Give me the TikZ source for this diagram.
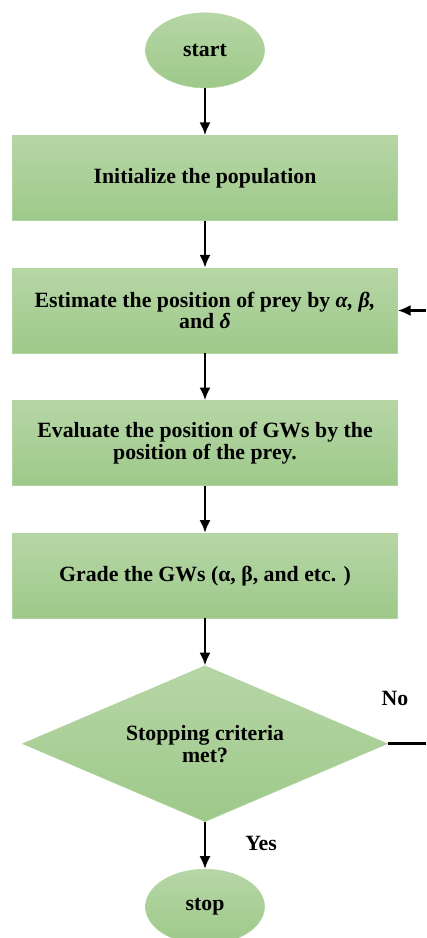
\documentclass[tikz,border=0pt]{standalone}
\usepackage{fontspec}
\setmainfont{Liberation Serif}
\usetikzlibrary{positioning,shapes.geometric,arrows.meta}

\definecolor{vertHaut}{RGB}{182,214,166}
\definecolor{vertBas}{RGB}{158,201,138}

\begin{document}
\begin{tikzpicture}[
  node distance=1.175cm,
  font=\fontsize{15.5}{15.5}\selectfont\bfseries,
  fleche/.style={draw, line width=1.9pt, -{Latex[length=3.2mm,width=2.8mm]}},
  %  Définition des styles pour les cadres
  bout_style/.style={ellipse, top color=vertHaut, bottom color=vertBas, draw=vertBas!80!white, minimum width=2.975cm, minimum height=1.875cm, inner sep=0pt},
  etape_style/.style={rectangle, top color=vertHaut, bottom color=vertBas, draw=vertBas!80!white, minimum width=9.625cm, minimum height=2.125cm, align=center, inner sep=2pt},
  test_style/.style={diamond, aspect=2.34, top color=vertHaut, bottom color=vertBas, draw=vertBas!80!white, minimum width=9.125cm, minimum height=3.9cm, align=center, inner sep=0pt}
]
\useasboundingbox (0,0) rectangle (10.65,-23.45);

%  Colonne principale
\node[bout_style] (start) at (5.125,-1.26) {start};
\node[etape_style, below=of start] (init) {Initialize the population};
\node[etape_style, below=of init] (estim) {Estimate the position of prey by \textit{α, β,}\\ and \textit{δ}};
\node[etape_style, below=of estim] (evalue) {Evaluate the position of GWs by the\\ position of the prey.};
\node[etape_style, below=of evalue] (grade) {Grade the GWs (α, β, and etc. )};
\node[test_style, below=of grade] (critere) {Stopping criteria\\ met?};
\node[bout_style, below=of critere] (stop) {stop};

%  Flèches
\draw[fleche] (start) -- (init);
\draw[fleche] (init) -- (estim);
\draw[fleche] (estim) -- (evalue);
\draw[fleche] (evalue) -- (grade);
\draw[fleche] (grade) -- (critere);
\draw[fleche] (critere) -- (stop);

%  Retour (coupé au bord)
\coordinate (bord) at (10.65,0);
\coordinate (bordBas) at (critere.east -| bord);
\coordinate (bordHaut) at (estim.east -| bord);
\draw[line width=1.9pt] (critere.east) -- (bordBas);
\draw[fleche] (bordHaut) -- (estim.east);

\node (non) at (9.875,-17.45) {No};
\node (oui) at (6.525,-21.075) {Yes};
\end{tikzpicture}
\end{document}
